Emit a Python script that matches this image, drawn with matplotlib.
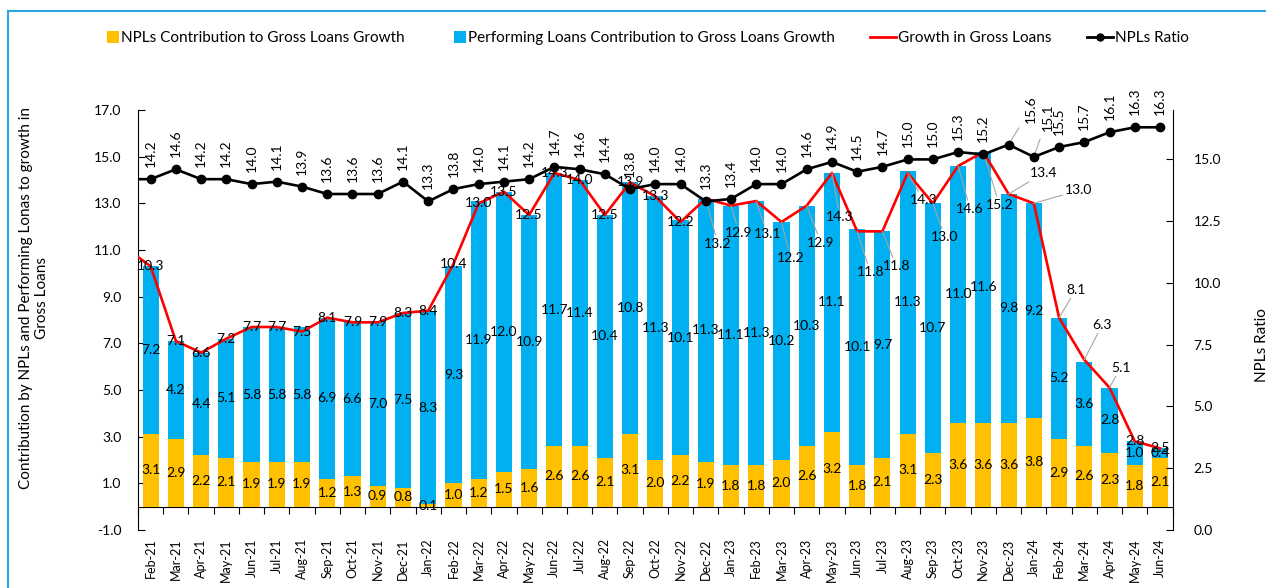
import numpy as np
import matplotlib
matplotlib.use("Agg")
import matplotlib.pyplot as plt
from matplotlib.patches import Patch, Rectangle
from matplotlib.lines import Line2D
from matplotlib.legend_handler import HandlerBase
from matplotlib.ticker import FormatStrFormatter

# ---------------- data ----------------
months = ["Feb-21", "Mar-21", "Apr-21", "May-21", "Jun-21", "Jul-21", "Aug-21", "Sep-21",
          "Oct-21", "Nov-21", "Dec-21", "Jan-22", "Feb-22", "Mar-22", "Apr-22", "May-22",
          "Jun-22", "Jul-22", "Aug-22", "Sep-22", "Oct-22", "Nov-22", "Dec-22", "Jan-23",
          "Feb-23", "Mar-23", "Apr-23", "May-23", "Jun-23", "Jul-23", "Aug-23", "Sep-23",
          "Oct-23", "Nov-23", "Dec-23", "Jan-24", "Feb-24", "Mar-24", "Apr-24", "May-24",
          "Jun-24"]

npl_contrib = [3.1, 2.9, 2.2, 2.1, 1.9, 1.9, 1.9, 1.2, 1.3, 0.9, 0.8, 0.1, 1.0, 1.2, 1.5, 1.6,
               2.6, 2.6, 2.1, 3.1, 2.0, 2.2, 1.9, 1.8, 1.8, 2.0, 2.6, 3.2, 1.8, 2.1, 3.1, 2.3,
               3.6, 3.6, 3.6, 3.8, 2.9, 2.6, 2.3, 1.8, 2.1]

performing_contrib = [7.2, 4.2, 4.4, 5.1, 5.8, 5.8, 5.8, 6.9, 6.6, 7.0, 7.5, 8.3, 9.3, 11.9,
                      12.0, 10.9, 11.7, 11.4, 10.4, 10.8, 11.3, 10.1, 11.3, 11.1, 11.3, 10.2,
                      10.3, 11.1, 10.1, 9.7, 11.3, 10.7, 11.0, 11.6, 9.8, 9.2, 5.2, 3.6, 2.8,
                      1.0, 0.4]

growth_gross_loans = [10.3, 7.1, 6.6, 7.2, 7.7, 7.7, 7.5, 8.1, 7.9, 7.9, 8.3, 8.4, 10.4, 13.0,
                      13.5, 12.5, 14.3, 14.0, 12.5, 13.9, 13.3, 12.2, 13.2, 12.9, 13.1, 12.2,
                      12.9, 14.3, 11.8, 11.8, 14.3, 13.0, 14.6, 15.2, 13.4, 13.0, 8.1, 6.3,
                      5.1, 2.8, 2.5]

npl_ratio = [14.2, 14.6, 14.2, 14.2, 14.0, 14.1, 13.9, 13.6, 13.6, 13.6, 14.1, 13.3, 13.8, 14.0,
             14.1, 14.2, 14.7, 14.6, 14.4, 13.8, 14.0, 14.0, 13.3, 13.4, 14.0, 14.0, 14.6, 14.9,
             14.5, 14.7, 15.0, 15.0, 15.3, 15.2, 15.6, 15.1, 15.5, 15.7, 16.1, 16.3, 16.3]

# line series in the source begin one month earlier (Jan-21), just outside the axis
growth_jan21 = 11.1
npl_ratio_jan21 = 14.2

# ---------------- styling / label placement ----------------
YELLOW = "#FFC000"
BLUE = "#00B0F0"
RED = "#FF0000"
FRAME = "#2AA8E0"
LEADER = "#A6A6A6"

growth_label_offsets = {
    "Dec-22": (12, -45), "Jan-23": (8, -27), "Feb-23": (11, -33), "Mar-23": (9, -36),
    "Apr-23": (14, -37), "May-23": (8, -44), "Jun-23": (13, -41), "Jul-23": (14, -35),
    "Aug-23": (16, -27), "Sep-23": (12, -34), "Oct-23": (12, -43), "Nov-23": (16, -53),
    "Dec-23": (35, 21), "Jan-24": (45, 13), "Feb-24": (17, 28), "Mar-24": (18, 35),
    "Apr-24": (11, 20),
}
ratio_label_offsets = {"Dec-23": (22, 22), "Jan-24": (14, 26)}

plt.rcParams["font.family"] = ["Lato", "DejaVu Sans"]
FS = 10
XFS = 9
TFS = 11


class SquareHandler(HandlerBase):
    """Draw a small square at the right end of the legend handle box."""

    def create_artists(self, legend, orig_handle, xdescent, ydescent, width, height,
                       fontsize, trans):
        s = 12.0 * 72 / 100  # about 12 px
        r = Rectangle((width - xdescent - s, -ydescent + (height - s) / 2), s, s,
                      facecolor=orig_handle.get_facecolor(), lw=0, transform=trans)
        return [r]


W, H = 1266, 588
fig = plt.figure(figsize=(W / 100, H / 100), dpi=100)
L, R, B, T = 138, 1172.6, 530, 110
ax = fig.add_axes([L / W, 1 - B / H, (R - L) / W, (B - T) / H])
ax.set_zorder(1)
ax2 = ax.twinx()
ax2.set_zorder(2)

x = np.arange(len(months))
npl = np.array(npl_contrib)
perf = np.array(performing_contrib)

ax.bar(x, npl, width=0.64, color=YELLOW, zorder=2)
ax.bar(x, perf, bottom=npl, width=0.64, color=BLUE, zorder=2)

for i in range(len(months)):
    ax.text(x[i], npl[i] / 2, f"{npl[i]:.1f}", ha="center", va="center", fontsize=FS, zorder=5)
    ax.text(x[i], npl[i] + perf[i] / 2, f"{perf[i]:.1f}", ha="center", va="center",
            fontsize=FS, zorder=5)

xl = np.arange(-1, len(months))
ax.plot(xl, [growth_jan21] + growth_gross_loans, color=RED, lw=1.9, zorder=4, clip_on=True)

for i, m in enumerate(months):
    v = growth_gross_loans[i]
    if m in growth_label_offsets:
        dx, dy = growth_label_offsets[m]
        ax.annotate(f"{v:.1f}", (x[i], v), xytext=(dx, dy), textcoords="offset pixels",
                    ha="center", va="center", fontsize=FS, zorder=6,
                    arrowprops=dict(arrowstyle="-", color=LEADER, lw=0.8, shrinkA=0, shrinkB=0))
    else:
        ax.text(x[i], v, f"{v:.1f}", ha="center", va="center", fontsize=FS, zorder=6)

ax2.plot(xl, [npl_ratio_jan21] + npl_ratio, color="black", lw=1.9, marker="o", ms=6,
         markevery=list(range(1, len(xl))), zorder=4)
for i, m in enumerate(months):
    v = npl_ratio[i]
    if m in ratio_label_offsets:
        dx, dy = ratio_label_offsets[m]
        ax2.annotate(f"{v:.1f}", (x[i], v), xytext=(dx, dy), textcoords="offset pixels",
                     ha="center", va="bottom", rotation=90, fontsize=FS, annotation_clip=False,
                     arrowprops=dict(arrowstyle="-", color=LEADER, lw=0.8, shrinkA=4, shrinkB=0))
    else:
        ax2.annotate(f"{v:.1f}", (x[i], v), xytext=(0, 12), textcoords="offset pixels",
                     ha="center", va="bottom", rotation=90, fontsize=FS, annotation_clip=False)

# ---------------- axes ----------------
ax.set_xlim(-0.5, len(months) - 0.5)
ax.set_ylim(-1, 17)
ax.set_yticks(np.arange(-1, 17.01, 2))
ax.yaxis.set_major_formatter(FormatStrFormatter("%.1f"))
ax.tick_params(axis="y", direction="in", length=5, labelsize=FS, pad=12)
ax.set_xticks(x)
ax.set_xticklabels(months, rotation=90, fontsize=XFS)
ax.tick_params(axis="x", length=0, pad=6)
for s in ("top", "right", "bottom"):
    ax.spines[s].set_visible(False)

ax2.set_ylim(0, 17)
ax2.set_yticks(np.arange(0, 15.01, 2.5))
ax2.yaxis.set_major_formatter(FormatStrFormatter("%.1f"))
ax2.tick_params(axis="y", direction="in", length=5, labelsize=FS, pad=15)
for s in ("top", "left", "bottom"):
    ax2.spines[s].set_visible(False)

zero_ax = ax.secondary_xaxis(1 / 18)
zero_ax.set_xticks(np.arange(-0.5, len(months), 1))
zero_ax.set_xticklabels([])
zero_ax.tick_params(direction="out", length=5)

fig.text(34 / W, 1 - 298 / H,
         "Contribution by NPLs and Performing Lonas to growth in\nGross Loans",
         rotation=90, ha="center", va="center", multialignment="center", fontsize=TFS)
fig.text(1262 / W, 1 - 345 / H, "NPLs Ratio", rotation=90, ha="center", va="center",
         fontsize=TFS)

handles = [Patch(facecolor=YELLOW), Patch(facecolor=BLUE),
           Line2D([], [], color=RED, lw=2),
           Line2D([], [], color="black", lw=2, marker="o", ms=5)]
labels = ["NPLs Contribution to Gross Loans Growth",
          "Performing Loans Contribution to Gross Loans Growth",
          "Growth in Gross Loans", "NPLs Ratio"]
fig.legend(handles, labels, loc="center", bbox_to_anchor=(641 / W, 1 - 38 / H), ncol=4,
           frameon=False, fontsize=TFS, handlelength=1.7, handletextpad=0.15,
           columnspacing=2.3, handler_map={Patch: SquareHandler()})

fig.add_artist(Line2D([8 / W, 1.0], [1 - 11 / H, 1 - 11 / H], color=FRAME, lw=1.5,
                      transform=fig.transFigure))
fig.add_artist(Line2D([8 / W, 8 / W], [1 - 11 / H, 0.0], color=FRAME, lw=1.5,
                      transform=fig.transFigure))

fig.savefig("out.png", dpi=100)
